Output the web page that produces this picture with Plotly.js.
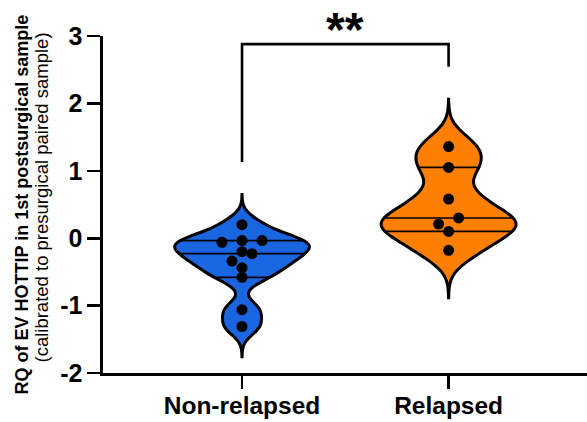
<!DOCTYPE html>
<html>
<head>
<meta charset="utf-8">
<script src="https://cdn.plot.ly/plotly-3.0.1.min.js"></script>
<style>html,body{margin:0;padding:0;background:#fff;}#chart{width:587px;height:422px;}</style>
</head>
<body>
<div id="chart"></div>
<script>
// ---- data ----
const categories = ['Non-relapsed', 'Relapsed'];
const nonRelapsed = [0.20, -0.035, -0.035, -0.06, -0.20, -0.23, -0.34, -0.44, -0.58, -1.06, -1.31];
const relapsed = [1.36, 1.05, 0.58, 0.30, 0.21, 0.10, -0.18];
const yTickVals = [-2, -1, 0, 1, 2, 3];
const sigLabel = '**';
const yTitle1 = 'RQ of EV HOTTIP in 1st postsurgical sample';
const yTitle2 = '(calibrated to presurgical paired sample)';

// ---- styling ----
const fills = ['#1a66e0', '#ff8000'];
const FONT = 'Liberation Sans, Arial, sans-serif';
const violinWidth = 0.65;
const dotStep = 0.097;
const bracketTop = 2.88;
const bracketGap = 0.48;
const smoothing = 0.6;   // kernel narrower than Silverman's rule, span kept at 2x Silverman

const groups = [nonRelapsed, relapsed];

function quantLinear(s, p) {
  const pos = (s.length - 1) * p, lo = Math.floor(pos), hi = Math.ceil(pos);
  return s[lo] + (s[hi] - s[lo]) * (pos - lo);
}
function quantPrism(s, p) {
  let pos = (s.length + 1) * p - 1;
  pos = Math.max(0, Math.min(s.length - 1, pos));
  const lo = Math.floor(pos), hi = Math.ceil(pos);
  return s[lo] + (s[hi] - s[lo]) * (pos - lo);
}
function silverman(vals) {
  const n = vals.length;
  const m = vals.reduce((a, b) => a + b, 0) / n;
  const sd = Math.sqrt(vals.reduce((a, v) => a + (v - m) * (v - m), 0) / (n - 1));
  const s = vals.slice().sort((a, b) => a - b);
  const iqr = quantLinear(s, 0.75) - quantLinear(s, 0.25);
  return 1.059 * Math.min(sd, iqr / 1.349) * Math.pow(n, -0.2);
}
function kde(vals, bw, y) {
  let d = 0;
  for (const v of vals) { const u = (y - v) / bw; d += Math.exp(-0.5 * u * u); }
  return d / (vals.length * bw * Math.sqrt(2 * Math.PI));
}
// simple beeswarm: bin by value, spread clustered points in a bin symmetrically
function swarmOffsets(vals) {
  const binH = 0.2, gapMax = 0.12;
  const bins = {};
  vals.forEach((v, i) => { const b = Math.floor(v / binH + 1e-9); (bins[b] = bins[b] || []).push(i); });
  const off = new Array(vals.length).fill(0);
  Object.values(bins).forEach(list => {
    list.sort((a, b) => vals[a] - vals[b]);
    const clusters = [[list[0]]];
    for (let k = 1; k < list.length; k++) {
      if (vals[list[k]] - vals[list[k - 1]] <= gapMax) clusters[clusters.length - 1].push(list[k]);
      else clusters.push([list[k]]);
    }
    clusters.forEach(c => c.forEach((i, k) => { off[i] = (k - (c.length - 1) / 2) * dotStep; }));
  });
  return off;
}

const traces = [];
const spanTops = [];
groups.forEach((vals, gi) => {
  const bs = silverman(vals);
  const bw = bs * smoothing;
  const lo = Math.min(...vals) - 2 * bs, hi = Math.max(...vals) + 2 * bs;
  spanTops.push(hi);
  traces.push({
    type: 'violin', x: vals.map(() => gi), y: vals,
    bandwidth: bw, spanmode: 'manual', span: [lo, hi],
    width: violinWidth, scalemode: 'width',
    fillcolor: fills[gi], line: { color: '#000', width: 3 },
    points: false, box: { visible: false }, meanline: { visible: false },
    hoverinfo: 'skip', opacity: 1
  });
  // quartile lines across the violin
  let dmax = 0;
  for (let k = 0; k <= 600; k++) dmax = Math.max(dmax, kde(vals, bw, lo + (hi - lo) * k / 600));
  const s = vals.slice().sort((a, b) => a - b);
  [0.25, 0.5, 0.75].forEach(p => {
    const q = quantPrism(s, p);
    const w = kde(vals, bw, q) / dmax * violinWidth / 2;
    traces.push({ type: 'scatter', mode: 'lines', x: [gi - w, gi + w], y: [q, q],
      line: { color: '#000', width: 1.7 }, hoverinfo: 'skip' });
  });
  const off = swarmOffsets(vals);
  traces.push({ type: 'scatter', mode: 'markers', x: vals.map((v, i) => gi + off[i]), y: vals,
    marker: { color: '#000', size: 11 }, hoverinfo: 'skip' });
});

const shapes = [{ type: 'path', xref: 'x', yref: 'y',
  path: `M 0,${spanTops[0] + bracketGap} L 0,${bracketTop} L 1,${bracketTop} L 1,${spanTops[1] + bracketGap}`,
  line: { color: '#000', width: 2.6 } }];

const axisCommon = {
  showline: true, linecolor: '#000', linewidth: 2.6, mirror: false,
  ticks: 'outside', ticklen: 13, tickwidth: 2.6, tickcolor: '#000',
  showgrid: false, zeroline: false, fixedrange: true,
  tickfont: { family: FONT, size: 25, weight: 'bold', color: '#000' }
};

const layout = {
  width: 587, height: 422,
  margin: { l: 103, r: 0, t: 36, b: 49, pad: 0 },
  paper_bgcolor: '#fff', plot_bgcolor: '#fff',
  showlegend: false,
  xaxis: Object.assign({}, axisCommon, {
    range: [-0.673, 1.67], tickvals: [0, 1], ticktext: categories,
    tickfont: { family: FONT, size: 24.5, weight: 'bold', color: '#000' }, ticklabelstandoff: -4
  }),
  yaxis: Object.assign({}, axisCommon, {
    range: [yTickVals[0], yTickVals[yTickVals.length - 1]],
    tickvals: yTickVals, ticktext: yTickVals.map(v => String(v))
  }),
  shapes: shapes,
  annotations: [
    { text: sigLabel, xref: 'x', yref: 'y', x: 0.5, y: bracketTop, yanchor: 'bottom', xanchor: 'center',
      showarrow: false, font: { family: FONT, size: 48, weight: 'bold', color: '#000' }, yshift: -14 },
    { text: '<b>' + yTitle1 + '</b>', xref: 'paper', yref: 'paper', x: 0, y: 0.5, textangle: -90,
      xanchor: 'center', yanchor: 'middle', xshift: -82, showarrow: false,
      font: { family: FONT, size: 18, color: '#000' } },
    { text: yTitle2, xref: 'paper', yref: 'paper', x: 0, y: 0.5, textangle: -90,
      xanchor: 'center', yanchor: 'middle', xshift: -62, yshift: 7, showarrow: false,
      font: { family: FONT, size: 18.5, color: '#000' } }
  ]
};

Plotly.newPlot('chart', traces, layout, { staticPlot: true, displayModeBar: false });
</script>
</body>
</html>
